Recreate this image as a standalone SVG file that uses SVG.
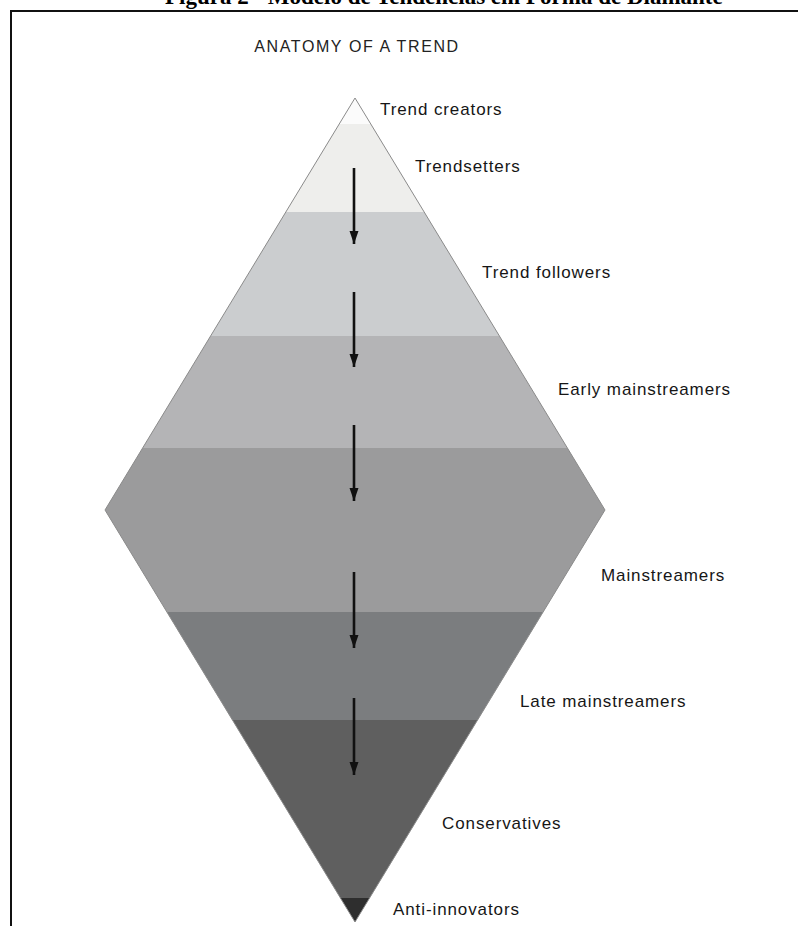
<svg xmlns="http://www.w3.org/2000/svg" width="798" height="926" viewBox="0 0 798 926">
<style>
.lbl{font-family:"Liberation Sans",Arial,sans-serif;font-size:17px;fill:#161616;letter-spacing:0.9px}
.title{font-family:"Liberation Sans",Arial,sans-serif;font-size:16px;fill:#222;letter-spacing:1.6px}
.cap{font-family:"Liberation Serif","Times New Roman",serif;font-size:23px;font-weight:bold;fill:#000}
.band{stroke:none}
.arrow{stroke:#111;stroke-width:2.6;fill:none;marker-end:url(#ah)}
</style>
<defs>
<marker id="ah" markerUnits="userSpaceOnUse" markerWidth="13" markerHeight="10" viewBox="0 0 13 10" refX="13" refY="5" orient="auto">
<path d="M0,0.5 L13,5 L0,9.5 Z" fill="#111"/>
</marker>
</defs>
<rect width="798" height="926" fill="#fff"/>
<text class="cap" x="165" y="4">Figura 2 - Modelo de Tendências em Forma de Diamante</text>
<path d="M11,926 L11,11 L798,11" fill="none" stroke="#111" stroke-width="2"/>
<text class="title" x="357" y="52" text-anchor="middle">ANATOMY OF A TREND</text>
<g id="diamond">
<g id="trend-creators"><polygon class="band" fill="#fbfbfb" points="355,98 370.8,124 339.2,124"/><text class="lbl" x="380" y="115">Trend creators</text></g>
<g id="trendsetters"><polygon class="band" fill="#eeeeec" points="339.2,124 370.8,124 424.2,212 285.8,212"/><text class="lbl" x="415" y="172">Trendsetters</text></g>
<g id="trend-followers"><polygon class="band" fill="#cbcdcf" points="285.8,212 424.2,212 499.4,336 210.6,336"/><text class="lbl" x="482" y="278">Trend followers</text></g>
<g id="early-mainstreamers"><polygon class="band" fill="#b4b4b6" points="210.6,336 499.4,336 567.4,448 142.6,448"/><text class="lbl" x="558" y="395">Early mainstreamers</text></g>
<g id="mainstreamers"><polygon class="band" fill="#9b9b9c" points="142.6,448 567.4,448 605,510 543.1,612 166.9,612 105,510"/><text class="lbl" x="601" y="581">Mainstreamers</text></g>
<g id="late-mainstreamers"><polygon class="band" fill="#7b7d7f" points="166.9,612 543.1,612 477.6,720 232.4,720"/><text class="lbl" x="520" y="707">Late mainstreamers</text></g>
<g id="conservatives"><polygon class="band" fill="#5f5f5f" points="232.4,720 477.6,720 369.6,898 340.4,898"/><text class="lbl" x="442" y="829">Conservatives</text></g>
<g id="anti-innovators"><polygon class="band" fill="#2e2e2e" points="340.4,898 369.6,898 355,922"/><text class="lbl" x="393" y="915">Anti-innovators</text></g>
<polygon points="355,98 605,510 355,922 105,510" fill="none" stroke="#8a8a8a" stroke-width="1"/>
</g>
<g id="connectors">
<line class="arrow" x1="354" y1="168" x2="354" y2="244"/>
<line class="arrow" x1="354" y1="292" x2="354" y2="367"/>
<line class="arrow" x1="354" y1="425" x2="354" y2="501"/>
<line class="arrow" x1="354" y1="572" x2="354" y2="648"/>
<line class="arrow" x1="354" y1="698" x2="354" y2="775"/>
</g>
</svg>
